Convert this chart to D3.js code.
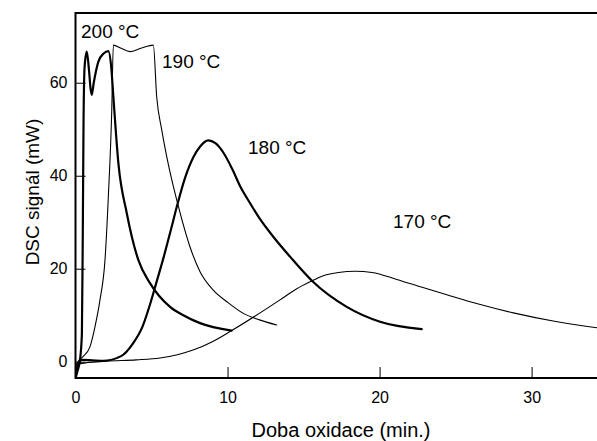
<!DOCTYPE html>
<html>
<head>
<meta charset="utf-8">
<script src="https://cdnjs.cloudflare.com/ajax/libs/d3/7.8.5/d3.min.js"></script>
<style>
  body { margin: 0; background: #fff; }
  text { font-family: Arial, "Liberation Sans", sans-serif; fill: #000; }
  .curve { fill: none; stroke: #000; stroke-linejoin: round; stroke-linecap: round; }
</style>
</head>
<body>
<script>
// time (min.) and DSC signal (mW)
var t200 = [0.02, 0.15, 0.3, 0.42, 0.48, 0.53, 0.6, 0.74, 0.88, 1.0, 1.07, 1.2, 1.5, 1.85, 2.16, 2.36, 2.49, 2.82, 3.37, 4.13, 4.9, 6.22, 7.09, 8.19, 10.27];
var v200 = [-3.3, -1.8, 0.5, 6, 28, 52, 63.5, 66.7, 63, 58.5, 57.4, 60, 64.5, 66.3, 66.8, 63, 57, 42.7, 32, 21.9, 16.9, 11.8, 10.0, 8.3, 6.7];

var t190 = [0.02, 0.2, 0.49, 0.95, 1.28, 1.61, 1.94, 2.16, 2.38, 2.49, 3.0, 3.58, 4.3, 5.12, 5.34, 5.67, 6.0, 6.88, 7.5, 8.2, 9.06, 10.0, 11.04, 12.1, 13.23];
var v190 = [-0.8, 0.2, 1.1, 3.2, 7.5, 13.3, 21.9, 35.5, 53.5, 68.1, 67.4, 66.7, 67.4, 68.1, 57, 49.9, 44.1, 32, 25.0, 19.3, 15.4, 12.8, 10.4, 9.0, 7.9];

var t180 = [0.02, 0.41, 1.81, 3.0, 3.75, 4.4, 4.9, 5.3, 5.8, 6.3, 6.7, 7.2, 7.75, 8.2, 8.73, 9.2, 9.72, 10.3, 10.82, 11.5, 12.13, 13.1, 14.11, 15.62, 17.84, 20.03, 22.77];
var v180 = [-1.5, 0.4, 0.2, 1.2, 3.8, 7.5, 12.3, 16.8, 22.5, 28.7, 33.8, 39.5, 44.0, 46.3, 47.6, 47.0, 45.0, 41.5, 37.8, 34.0, 30.7, 26.5, 22.6, 17.2, 11.8, 8.6, 7.0];

var t170 = [0.02, 0.3, 2.0, 4.0, 5.56, 6.7, 7.73, 9.0, 10.27, 12.14, 13.45, 14.5, 15.43, 16.3, 17.3, 18.4, 19.5, 21.13, 22.8, 24.42, 26.5, 28.8, 31.5, 34.29, 35.5];
var v170 = [-2.0, -0.4, 0.1, 0.4, 0.8, 1.5, 2.5, 4.3, 6.7, 10.5, 13.3, 15.6, 17.2, 18.5, 19.2, 19.45, 19.2, 17.7, 16.0, 14.4, 12.4, 10.5, 8.7, 7.3, 6.9];

var seriesNames = ["200 °C", "190 °C", "180 °C", "170 °C"];
var xTicks = [0, 10, 20, 30];
var yTicks = [0, 20, 40, 60];

var width = 597, height = 441;
var plotLeft = 75.5, plotRight = 597, plotTop = 13, plotBottom = 378;

var x = d3.scaleLinear().domain([0, 34.3]).range([plotLeft, plotRight]);
var y = d3.scaleLinear().domain([-3.5, 75]).range([plotBottom, plotTop]);

var svg = d3.select("body").append("svg")
    .attr("width", width)
    .attr("height", height);

svg.append("defs").append("clipPath")
    .attr("id", "plot-clip")
    .append("rect")
    .attr("x", plotLeft).attr("y", plotTop)
    .attr("width", plotRight - plotLeft + 10).attr("height", plotBottom - plotTop);

var line = d3.line()
    .x(d => x(d[0]))
    .y(d => y(d[1]))
    .curve(d3.curveMonotoneX);

var series = [
    { t: t200, v: v200, w: 2.2 },
    { t: t190, v: v190, w: 1.1 },
    { t: t180, v: v180, w: 2.2 },
    { t: t170, v: v170, w: 1.1 }
];

var plot = svg.append("g").attr("clip-path", "url(#plot-clip)");
series.forEach(function (s) {
    plot.append("path")
        .attr("class", "curve")
        .attr("stroke-width", s.w)
        .attr("d", line(d3.zip(s.t, s.v)));
});

// axes with inward ticks
var xAxis = svg.append("g")
    .attr("transform", "translate(0," + plotBottom + ")")
    .call(d3.axisBottom(x).tickValues(xTicks).tickSizeInner(-11).tickSizeOuter(0).tickPadding(14));
var yAxis = svg.append("g")
    .attr("transform", "translate(" + plotLeft + ",0)")
    .call(d3.axisLeft(y).tickValues(yTicks).tickSizeInner(-10).tickSizeOuter(0).tickPadding(8));

[xAxis, yAxis].forEach(function (a) {
    a.attr("font-size", null).attr("font-family", null);
    a.select(".domain").remove();
    a.selectAll("line").attr("stroke", "#000").attr("stroke-width", 1);
    a.selectAll("text").style("font-size", "16px");
});

// frame
svg.append("path")
    .attr("d", "M" + (width + 5) + "," + plotTop + "H" + plotLeft + "V" + plotBottom + "H" + (width + 5))
    .attr("fill", "none")
    .attr("stroke", "#000")
    .attr("stroke-width", 2);

// axis titles
svg.append("text")
    .attr("x", 341).attr("y", 437)
    .attr("text-anchor", "middle")
    .style("font-size", "20px")
    .text("Doba oxidace (min.)");

svg.append("text")
    .attr("transform", "translate(39,192) rotate(-90)")
    .attr("text-anchor", "middle")
    .style("font-size", "19px")
    .text("DSC signál (mW)");

// curve labels
var labelPos = [[81, 38], [162, 68], [248, 154], [393, 228]];
seriesNames.forEach(function (name, i) {
    svg.append("text")
        .attr("x", labelPos[i][0]).attr("y", labelPos[i][1])
        .style("font-size", "19px")
        .text(name);
});
</script>
</body>
</html>
